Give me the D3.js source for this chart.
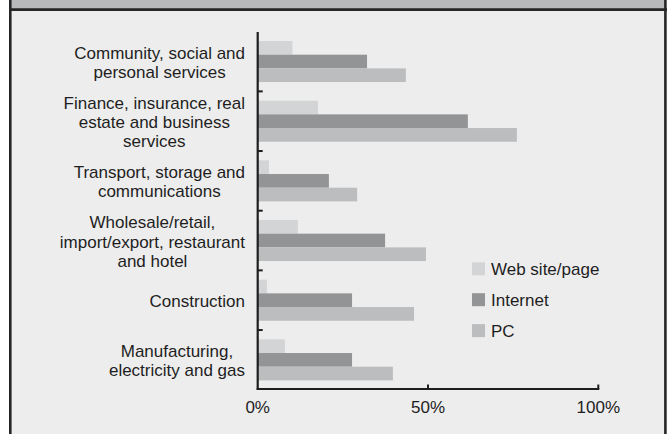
<!DOCTYPE html>
<html><head><meta charset="utf-8">
<script src="https://cdn.jsdelivr.net/npm/d3@7"></script>
<style>
html,body{margin:0;padding:0;background:#fff;}
text{font-family:"Liberation Sans",Arial,Helvetica,sans-serif;fill:#1e1e1e;}
</style></head>
<body>
<svg id="chart" width="669" height="434"></svg>
<script>
const categories = [
  ["Community, social and", "personal services"],
  ["Finance, insurance, real", "estate and business", "services"],
  ["Transport, storage and", "communications"],
  ["Wholesale/retail,", "import/export, restaurant", "and hotel"],
  ["Construction"],
  ["Manufacturing,", "electricity and gas"]
];
const seriesNames = ["Web site/page", "Internet", "PC"];
const webSite = [10.2, 17.7, 3.3, 11.8, 2.7, 8.0];
const internet = [32.1, 61.7, 20.9, 37.4, 27.7, 27.7];
const pc = [43.5, 76.1, 29.2, 49.4, 45.9, 39.7];
const xTicks = [0, 50, 100];
const xTickLabels = ["0%", "50%", "100%"];
const colors = ["#d3d4d6", "#939496", "#bcbdbf"];

const seriesValues = [webSite, internet, pc];
const svg = d3.select("#chart");

// panel
svg.append("rect").attr("x",10).attr("y",0).attr("width",656).attr("height",434).attr("fill","#ededed");
svg.append("rect").attr("x",10).attr("y",0).attr("width",656).attr("height",9).attr("fill","#b8b9bb");
svg.append("line").attr("x1",9).attr("x2",667).attr("y1",9.6).attr("y2",9.6).attr("stroke","#262626").attr("stroke-width",2.6);
svg.append("line").attr("x1",10.3).attr("x2",10.3).attr("y1",0).attr("y2",434).attr("stroke","#262626").attr("stroke-width",2.6);
svg.append("line").attr("x1",665.4).attr("x2",665.4).attr("y1",0).attr("y2",434).attr("stroke","#262626").attr("stroke-width",2.6);

const catIdx = d3.range(categories.length);
const y0 = d3.scaleBand().domain(catIdx).range([31.7, 389.7]).padding(0);
const y1 = d3.scaleBand().domain(d3.range(seriesNames.length)).range([9.3, y0.bandwidth()-9.3]).padding(0);
const x = d3.scaleLinear().domain([0,100]).range([257.7, 598.3]);

// bars
const groups = svg.append("g").selectAll("g").data(catIdx).join("g")
  .attr("transform", i => `translate(0,${y0(i)})`);
groups.selectAll("rect").data(i => seriesValues.map((s,k)=>({k, v:s[i]}))).join("rect")
  .attr("x", x(0))
  .attr("y", d => y1(d.k))
  .attr("width", d => x(d.v) - x(0))
  .attr("height", y1.bandwidth())
  .attr("fill", d => colors[d.k]);

// axes
const axisColor = "#1e1e1e";
svg.append("line").attr("x1",x(0)).attr("x2",x(0)).attr("y1",32).attr("y2",390).attr("stroke",axisColor).attr("stroke-width",2.2);
svg.append("line").attr("x1",x(0)-1).attr("x2",x(100)+1).attr("y1",389).attr("y2",389).attr("stroke",axisColor).attr("stroke-width",2.2);
svg.append("g").selectAll("line").data(catIdx.slice(1)).join("line")
  .attr("x1", x(0)).attr("x2", x(0)+5)
  .attr("y1", i => y0(i)).attr("y2", i => y0(i))
  .attr("stroke", axisColor).attr("stroke-width", 2);
svg.append("g").selectAll("line").data(xTicks.slice(1)).join("line")
  .attr("x1", d => x(d)).attr("x2", d => x(d))
  .attr("y1", 384.5).attr("y2", 389)
  .attr("stroke", axisColor).attr("stroke-width", 2);
svg.append("g").selectAll("text").data(xTicks).join("text")
  .attr("x", d => x(d)).attr("y", 413)
  .attr("text-anchor","middle").attr("font-size",17)
  .text((d,i) => xTickLabels[i]);

// category labels (one text element per category, lines as tspans)
const lineH = 19.1;
const rightEdge = 245;
categories.forEach((lines, i) => {
  const cy = y0(i) + y0.bandwidth()/2;
  const t = svg.append("text").attr("font-size", 17).attr("text-anchor","middle");
  const spans = lines.map((ln, j) => t.append("tspan")
    .attr("y", cy + (j - (lines.length-1)/2)*lineH + 7)
    .text(ln));
  const maxW = d3.max(spans, s => s.node().getComputedTextLength());
  spans.forEach(s => s.attr("x", rightEdge - maxW/2));
});

// legend
const legend = svg.append("g");
seriesNames.forEach((name, k) => {
  const ly = 262.3 + k*30.9;
  legend.append("rect").attr("x",472).attr("y",ly).attr("width",13).attr("height",13).attr("fill",colors[k]);
  legend.append("text").attr("x",491).attr("y",ly+12.5).attr("font-size",17).text(name);
});
</script>
</body></html>
